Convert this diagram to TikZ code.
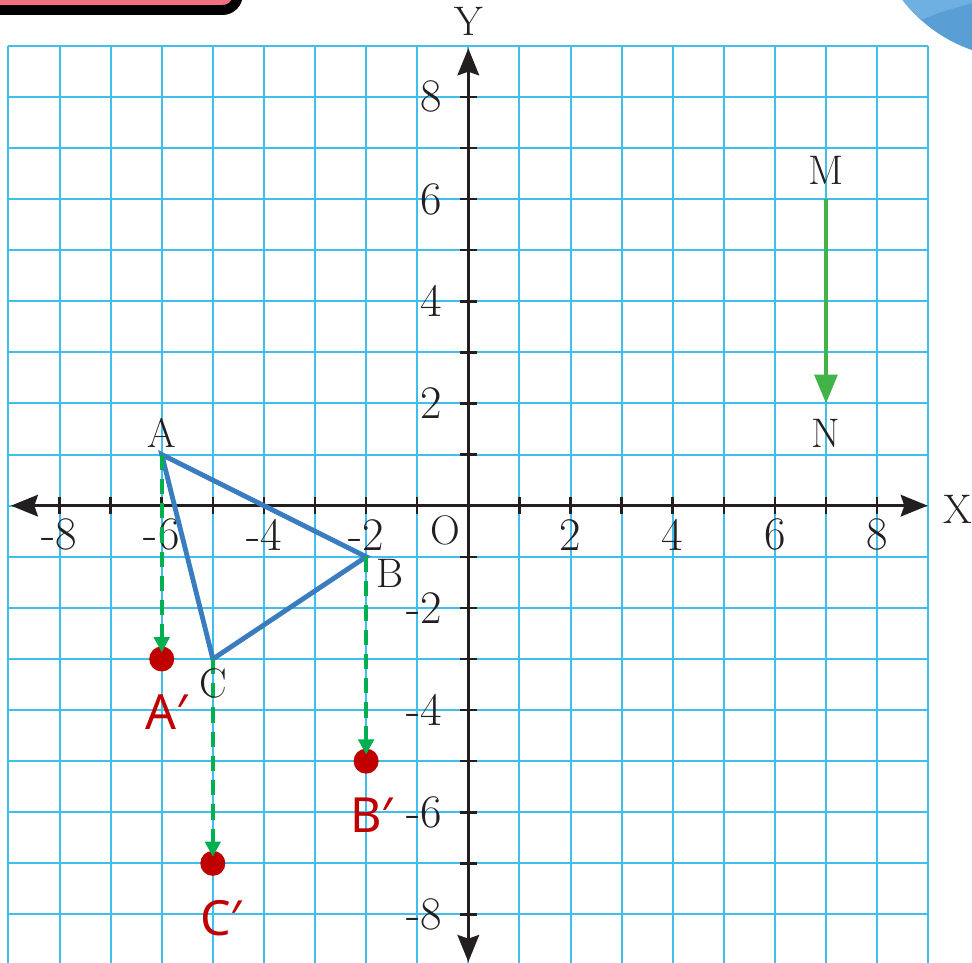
\documentclass[tikz,border=0pt]{standalone}
\usepackage{fontspec}
\newfontfamily\primefont{Noto Sans}
\usepackage{xcolor}
\usepackage{tikz}
\usetikzlibrary{arrows.meta}
\definecolor{gridblue}{RGB}{64,190,236}
\definecolor{axisblack}{RGB}{35,31,32}
\definecolor{triblue}{RGB}{58,124,192}
\definecolor{dashgreen}{RGB}{0,176,80}
\definecolor{vecgreen}{RGB}{64,180,72}
\definecolor{ptred}{RGB}{192,0,0}
\definecolor{tabpink}{RGB}{240,112,128}
\definecolor{bloblight}{RGB}{110,176,226}
\definecolor{blobdark}{RGB}{90,158,214}

\begin{document}
\begin{tikzpicture}[
  gridln/.style={draw=gridblue,line width=1.1pt},
  ax/.style={draw=axisblack,line width=1.8pt,{Stealth[length=15pt,width=12pt,inset=2pt]}-{Stealth[length=15pt,width=12pt,inset=2pt]}},
  tck/.style={draw=axisblack,line width=1.4pt},
  tri/.style={draw=triblue,line width=2.7pt},
  dasharr/.style={draw=dashgreen,line width=2.3pt,dash pattern=on 8.5pt off 5pt,-{Triangle[length=8.5pt,width=8.5pt]},shorten >=-0.125cm},
  vec/.style={draw=vecgreen,line width=2.5pt,-{Triangle[length=16pt,width=12.5pt]}},
  dot/.style={circle,fill=ptred,minimum size=4.9mm,inner sep=0pt},
  num/.style={font=\fontsize{26}{29}\selectfont,text=axisblack,inner sep=0pt},
  lbl/.style={font=\fontsize{23}{26}\selectfont,text=axisblack,inner sep=0pt},
  plbl/.style={font=\primefont\fontsize{27}{30}\selectfont,text=ptred,inner sep=0pt}]
\useasboundingbox (-9.165,-8.949) rectangle (9.857,9.896);
% corner decorations
\draw[line width=5.5pt,fill=tabpink,rounded corners=0.3cm] (-9.8,10.4) rectangle (-4.51,9.70);
\begin{scope}
  \clip (10.8,11.66) circle (2.9);
  \fill[blobdark] (10.8,11.66) circle (2.9);
  \fill[bloblight] (8,10.2) -- (8,9.4) -- (8.6,9.4) .. controls (9.2,9.65) .. (9.9,9.85) -- (9.9,10.2) -- cycle;
\end{scope}
% grid and axes
\draw[gridln] (-9,-9) grid (9,9);
\coordinate (xlft) at (-8.95,0);
\coordinate (xrgt) at (8.99,0);
\coordinate (ybot) at (0,-8.93);
\coordinate (ytop) at (0,8.95);
\draw[ax] (xlft) -- (xrgt);
\draw[ax] (ybot) -- (ytop);
\foreach \k in {-8,...,-1,1,2,...,8} {
  \draw[tck] (\k,-0.17) -- (\k,0.17);
  \draw[tck] (-0.17,\k) -- (0.17,\k);
}
\foreach \k [count=\i] in {-8,-6,-4,-2,2,4,6,8} {
  \node[num] (xnum\i) at (\k,-0.57) {\k};
  \node[num,anchor=east] (ynum\i) at (-0.5,\k) {\k};
}
\node[lbl] (lX) at (9.58,-0.08) {X};
\node[lbl] (lY) at (0,9.47) {Y};
\node[lbl] (lO) at (-0.44,-0.48) {O};
% triangle and its image
\coordinate (A) at (-6,1);
\coordinate (B) at (-2,-1);
\coordinate (C) at (-5,-3);
\draw[tri] (A) -- (B) -- (C) -- cycle;
\node[dot] (A1) at (-6,-3) {};
\node[dot] (B1) at (-2,-5) {};
\node[dot] (C1) at (-5,-7) {};
\draw[dasharr] (A) -- (A1);
\draw[dasharr] (B) -- (B1);
\draw[dasharr] (C) -- (C1);
\node[lbl] (lA) at (-6,1.42) {A};
\node[lbl] (lB) at (-1.53,-1.32) {B};
\node[lbl] (lC) at (-5,-3.48) {C};
\node[plbl] (lA1) at (-5.9,-4.04) {A′};
\node[plbl] (lB1) at (-1.89,-6.05) {B′};
\node[plbl] (lC1) at (-4.84,-8.07) {C′};
% vector MN
\coordinate (M) at (7,6);
\coordinate (N) at (7,2);
\draw[vec] (M) -- (N);
\node[lbl] (lM) at (7,6.57) {M};
\node[lbl] (lN) at (7,1.42) {N};
\end{tikzpicture}
\end{document}
